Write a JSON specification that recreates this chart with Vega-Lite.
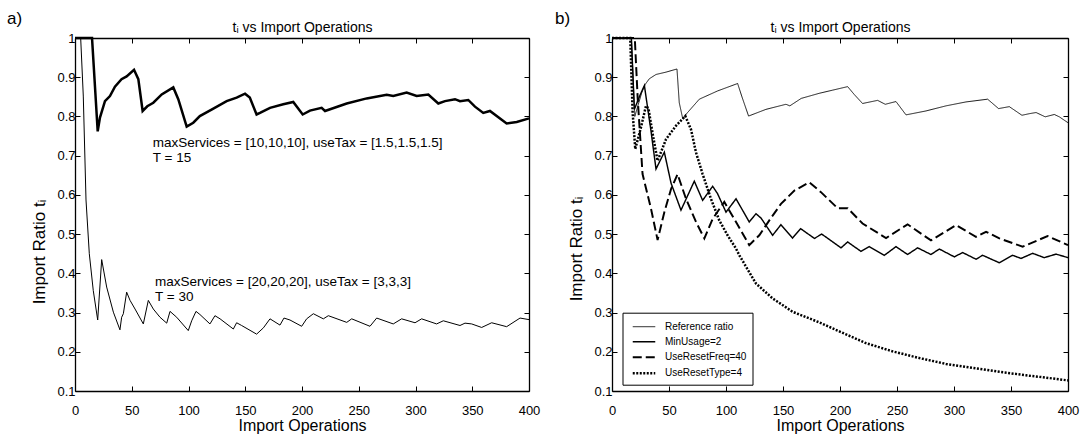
{
  "$schema": "https://vega.github.io/schema/vega-lite/v6.json",
  "padding": {"left": 7, "top": 9, "right": 4, "bottom": 2},
  "config": {
    "font": "Liberation Sans",
    "view": {"stroke": null},
    "axis": {"grid": false, "domainColor": "#000", "domainWidth": 1.3, "tickColor": "#000", "tickSize": -5, "tickWidth": 1, "labelColor": "#000", "labelFontSize": 13, "labelFlush": false, "labelOverlap": false, "titleColor": "#000", "titleFontSize": 16, "titleFontWeight": "normal", "labelPadding": 18, "titlePadding": 0},
    "axisY": {"labelPadding": 5, "titlePadding": 8, "titleFontSize": 17},
    "title": {"fontWeight": "normal", "color": "#000", "fontSize": 17, "anchor": "start", "frame": "group"},
    "legend": {"orient": "none", "legendX": 10.5, "legendY": 274.7, "strokeColor": "#000", "fillColor": "#fff", "padding": 6, "labelFontSize": 10, "labelColor": "#000", "symbolType": "M-1.5,0H1.5", "symbolSize": 225, "symbolStrokeColor": "#000", "symbolOffset": 6.5, "labelOffset": 12, "rowPadding": 1.5, "cornerRadius": 0}
  },
  "datasets": {
    "a": [
      {"s":"T15","x":0,"y":1},{"s":"T15","x":15,"y":1},{"s":"T15","x":20,"y":0.762},{"s":"T15","x":22,"y":0.797},{"s":"T15","x":26.4,"y":0.839},{"s":"T15","x":30.8,"y":0.852},{"s":"T15","x":35.2,"y":0.876},{"s":"T15","x":41,"y":0.895},{"s":"T15","x":45.5,"y":0.902},{"s":"T15","x":52,"y":0.919},{"s":"T15","x":55.8,"y":0.895},{"s":"T15","x":59.6,"y":0.814},{"s":"T15","x":63.7,"y":0.826},{"s":"T15","x":69,"y":0.835},{"s":"T15","x":76.4,"y":0.856},{"s":"T15","x":86.6,"y":0.874},{"s":"T15","x":91,"y":0.844},{"s":"T15","x":98.4,"y":0.774},{"s":"T15","x":104.2,"y":0.784},{"s":"T15","x":110,"y":0.801},{"s":"T15","x":121.9,"y":0.82},{"s":"T15","x":133.6,"y":0.839},{"s":"T15","x":142.4,"y":0.848},{"s":"T15","x":149.8,"y":0.858},{"s":"T15","x":154,"y":0.848},{"s":"T15","x":160,"y":0.805},{"s":"T15","x":163,"y":0.809},{"s":"T15","x":171.8,"y":0.822},{"s":"T15","x":183.5,"y":0.831},{"s":"T15","x":192.3,"y":0.837},{"s":"T15","x":200.6,"y":0.805},{"s":"T15","x":207,"y":0.815},{"s":"T15","x":217.3,"y":0.822},{"s":"T15","x":220.3,"y":0.814},{"s":"T15","x":239.4,"y":0.833},{"s":"T15","x":257,"y":0.846},{"s":"T15","x":274.6,"y":0.855},{"s":"T15","x":280.4,"y":0.852},{"s":"T15","x":292.2,"y":0.861},{"s":"T15","x":301,"y":0.852},{"s":"T15","x":311.3,"y":0.856},{"s":"T15","x":320.1,"y":0.833},{"s":"T15","x":326,"y":0.839},{"s":"T15","x":334.8,"y":0.844},{"s":"T15","x":339.2,"y":0.839},{"s":"T15","x":346.5,"y":0.842},{"s":"T15","x":352.4,"y":0.825},{"s":"T15","x":359.7,"y":0.809},{"s":"T15","x":365.6,"y":0.814},{"s":"T15","x":380.3,"y":0.782},{"s":"T15","x":389.2,"y":0.786},{"s":"T15","x":400,"y":0.795},
      {"s":"T30","x":0,"y":1},{"s":"T30","x":5,"y":1},{"s":"T30","x":7.3,"y":0.852},{"s":"T30","x":9.7,"y":0.587},{"s":"T30","x":12.6,"y":0.45},{"s":"T30","x":16.1,"y":0.356},{"s":"T30","x":20,"y":0.281},{"s":"T30","x":23.5,"y":0.435},{"s":"T30","x":27.9,"y":0.365},{"s":"T30","x":33.8,"y":0.301},{"s":"T30","x":39.6,"y":0.256},{"s":"T30","x":41.1,"y":0.288},{"s":"T30","x":42.6,"y":0.297},{"s":"T30","x":45.5,"y":0.352},{"s":"T30","x":48.5,"y":0.331},{"s":"T30","x":52.9,"y":0.309},{"s":"T30","x":60.2,"y":0.271},{"s":"T30","x":64.6,"y":0.331},{"s":"T30","x":69,"y":0.309},{"s":"T30","x":74.9,"y":0.288},{"s":"T30","x":80.8,"y":0.273},{"s":"T30","x":83.7,"y":0.303},{"s":"T30","x":89.6,"y":0.288},{"s":"T30","x":99.8,"y":0.254},{"s":"T30","x":102.8,"y":0.279},{"s":"T30","x":106.6,"y":0.303},{"s":"T30","x":110.1,"y":0.295},{"s":"T30","x":118.9,"y":0.271},{"s":"T30","x":123.3,"y":0.292},{"s":"T30","x":127.8,"y":0.284},{"s":"T30","x":139.5,"y":0.258},{"s":"T30","x":142.4,"y":0.274},{"s":"T30","x":146.8,"y":0.267},{"s":"T30","x":160,"y":0.245},{"s":"T30","x":166,"y":0.261},{"s":"T30","x":171.8,"y":0.284},{"s":"T30","x":180.6,"y":0.268},{"s":"T30","x":184.1,"y":0.286},{"s":"T30","x":189.4,"y":0.281},{"s":"T30","x":199.7,"y":0.265},{"s":"T30","x":204.1,"y":0.284},{"s":"T30","x":210,"y":0.297},{"s":"T30","x":218.8,"y":0.284},{"s":"T30","x":223.2,"y":0.292},{"s":"T30","x":239.4,"y":0.275},{"s":"T30","x":243.8,"y":0.284},{"s":"T30","x":259.9,"y":0.265},{"s":"T30","x":265.8,"y":0.286},{"s":"T30","x":280.4,"y":0.271},{"s":"T30","x":287.8,"y":0.284},{"s":"T30","x":299.6,"y":0.274},{"s":"T30","x":305.4,"y":0.284},{"s":"T30","x":318.6,"y":0.271},{"s":"T30","x":324.5,"y":0.279},{"s":"T30","x":339.2,"y":0.267},{"s":"T30","x":343.6,"y":0.273},{"s":"T30","x":349.5,"y":0.271},{"s":"T30","x":358.3,"y":0.262},{"s":"T30","x":367.1,"y":0.274},{"s":"T30","x":380.3,"y":0.264},{"s":"T30","x":392.1,"y":0.286},{"s":"T30","x":400,"y":0.282}
    ],
    "b": [
      {"s":"Reference ratio","x":0,"y":1},{"s":"Reference ratio","x":17,"y":1},{"s":"Reference ratio","x":20,"y":0.8},{"s":"Reference ratio","x":23,"y":0.83},{"s":"Reference ratio","x":26,"y":0.86},{"s":"Reference ratio","x":29.2,"y":0.882},{"s":"Reference ratio","x":32.7,"y":0.896},{"s":"Reference ratio","x":38.6,"y":0.907},{"s":"Reference ratio","x":47.4,"y":0.913},{"s":"Reference ratio","x":57,"y":0.921},{"s":"Reference ratio","x":59,"y":0.835},{"s":"Reference ratio","x":62,"y":0.795},{"s":"Reference ratio","x":66.3,"y":0.81},{"s":"Reference ratio","x":76.6,"y":0.844},{"s":"Reference ratio","x":92.6,"y":0.865},{"s":"Reference ratio","x":110.2,"y":0.884},{"s":"Reference ratio","x":114,"y":0.85},{"s":"Reference ratio","x":119.8,"y":0.801},{"s":"Reference ratio","x":135,"y":0.818},{"s":"Reference ratio","x":152.6,"y":0.831},{"s":"Reference ratio","x":156,"y":0.827},{"s":"Reference ratio","x":166,"y":0.846},{"s":"Reference ratio","x":181.8,"y":0.859},{"s":"Reference ratio","x":193.5,"y":0.867},{"s":"Reference ratio","x":206.7,"y":0.876},{"s":"Reference ratio","x":212.5,"y":0.856},{"s":"Reference ratio","x":219.8,"y":0.833},{"s":"Reference ratio","x":233,"y":0.841},{"s":"Reference ratio","x":239.7,"y":0.831},{"s":"Reference ratio","x":249.1,"y":0.838},{"s":"Reference ratio","x":257.9,"y":0.804},{"s":"Reference ratio","x":275.4,"y":0.814},{"s":"Reference ratio","x":293,"y":0.827},{"s":"Reference ratio","x":310.5,"y":0.837},{"s":"Reference ratio","x":329.5,"y":0.844},{"s":"Reference ratio","x":339.1,"y":0.82},{"s":"Reference ratio","x":348.5,"y":0.825},{"s":"Reference ratio","x":359.6,"y":0.803},{"s":"Reference ratio","x":366,"y":0.807},{"s":"Reference ratio","x":372,"y":0.81},{"s":"Reference ratio","x":380,"y":0.799},{"s":"Reference ratio","x":388,"y":0.805},{"s":"Reference ratio","x":392.4,"y":0.799},{"s":"Reference ratio","x":400,"y":0.784},
      {"s":"MinUsage=2","x":0,"y":1},{"s":"MinUsage=2","x":17,"y":1},{"s":"MinUsage=2","x":19.6,"y":0.818},{"s":"MinUsage=2","x":24,"y":0.85},{"s":"MinUsage=2","x":28.4,"y":0.879},{"s":"MinUsage=2","x":34.2,"y":0.763},{"s":"MinUsage=2","x":38.6,"y":0.666},{"s":"MinUsage=2","x":45.9,"y":0.709},{"s":"MinUsage=2","x":51.8,"y":0.63},{"s":"MinUsage=2","x":60.5,"y":0.561},{"s":"MinUsage=2","x":72.2,"y":0.635},{"s":"MinUsage=2","x":79.5,"y":0.586},{"s":"MinUsage=2","x":88.3,"y":0.622},{"s":"MinUsage=2","x":92.6,"y":0.603},{"s":"MinUsage=2","x":100,"y":0.556},{"s":"MinUsage=2","x":108.8,"y":0.59},{"s":"MinUsage=2","x":120.4,"y":0.531},{"s":"MinUsage=2","x":126.3,"y":0.552},{"s":"MinUsage=2","x":130.7,"y":0.541},{"s":"MinUsage=2","x":140.9,"y":0.497},{"s":"MinUsage=2","x":148.2,"y":0.524},{"s":"MinUsage=2","x":158.4,"y":0.49},{"s":"MinUsage=2","x":165.5,"y":0.514},{"s":"MinUsage=2","x":177.5,"y":0.489},{"s":"MinUsage=2","x":184,"y":0.5},{"s":"MinUsage=2","x":200.9,"y":0.465},{"s":"MinUsage=2","x":206.7,"y":0.48},{"s":"MinUsage=2","x":218.4,"y":0.456},{"s":"MinUsage=2","x":225.7,"y":0.468},{"s":"MinUsage=2","x":238.9,"y":0.446},{"s":"MinUsage=2","x":249.1,"y":0.468},{"s":"MinUsage=2","x":259.3,"y":0.448},{"s":"MinUsage=2","x":268.1,"y":0.465},{"s":"MinUsage=2","x":279.8,"y":0.448},{"s":"MinUsage=2","x":287.1,"y":0.462},{"s":"MinUsage=2","x":300.3,"y":0.442},{"s":"MinUsage=2","x":307.6,"y":0.453},{"s":"MinUsage=2","x":319.3,"y":0.436},{"s":"MinUsage=2","x":325.1,"y":0.446},{"s":"MinUsage=2","x":339.7,"y":0.427},{"s":"MinUsage=2","x":351.4,"y":0.446},{"s":"MinUsage=2","x":358.8,"y":0.438},{"s":"MinUsage=2","x":369,"y":0.451},{"s":"MinUsage=2","x":379.2,"y":0.44},{"s":"MinUsage=2","x":389.5,"y":0.449},{"s":"MinUsage=2","x":400,"y":0.44},
      {"s":"UseResetFreq=40","x":0,"y":1},{"s":"UseResetFreq=40","x":20,"y":1},{"s":"UseResetFreq=40","x":22.5,"y":0.848},{"s":"UseResetFreq=40","x":26.8,"y":0.653},{"s":"UseResetFreq=40","x":34.2,"y":0.565},{"s":"UseResetFreq=40","x":40,"y":0.485},{"s":"UseResetFreq=40","x":45.9,"y":0.556},{"s":"UseResetFreq=40","x":51.8,"y":0.615},{"s":"UseResetFreq=40","x":57.5,"y":0.653},{"s":"UseResetFreq=40","x":64.9,"y":0.59},{"s":"UseResetFreq=40","x":73.7,"y":0.531},{"s":"UseResetFreq=40","x":81,"y":0.489},{"s":"UseResetFreq=40","x":88.3,"y":0.539},{"s":"UseResetFreq=40","x":98.5,"y":0.582},{"s":"UseResetFreq=40","x":108.8,"y":0.531},{"s":"UseResetFreq=40","x":120.4,"y":0.472},{"s":"UseResetFreq=40","x":129.2,"y":0.497},{"s":"UseResetFreq=40","x":138,"y":0.535},{"s":"UseResetFreq=40","x":148.2,"y":0.577},{"s":"UseResetFreq=40","x":160,"y":0.611},{"s":"UseResetFreq=40","x":173,"y":0.632},{"s":"UseResetFreq=40","x":183.3,"y":0.607},{"s":"UseResetFreq=40","x":197.9,"y":0.566},{"s":"UseResetFreq=40","x":206.7,"y":0.566},{"s":"UseResetFreq=40","x":219.8,"y":0.527},{"s":"UseResetFreq=40","x":240.4,"y":0.49},{"s":"UseResetFreq=40","x":259.3,"y":0.525},{"s":"UseResetFreq=40","x":279.8,"y":0.484},{"s":"UseResetFreq=40","x":301.8,"y":0.523},{"s":"UseResetFreq=40","x":319.3,"y":0.493},{"s":"UseResetFreq=40","x":328.1,"y":0.506},{"s":"UseResetFreq=40","x":339.8,"y":0.489},{"s":"UseResetFreq=40","x":360.2,"y":0.468},{"s":"UseResetFreq=40","x":382.1,"y":0.495},{"s":"UseResetFreq=40","x":400,"y":0.472},
      {"s":"UseResetType=4","x":0,"y":1},{"s":"UseResetType=4","x":16,"y":1},{"s":"UseResetType=4","x":18.1,"y":0.81},{"s":"UseResetType=4","x":20.4,"y":0.717},{"s":"UseResetType=4","x":25.4,"y":0.772},{"s":"UseResetType=4","x":29.8,"y":0.827},{"s":"UseResetType=4","x":32,"y":0.82},{"s":"UseResetType=4","x":36,"y":0.75},{"s":"UseResetType=4","x":40,"y":0.687},{"s":"UseResetType=4","x":47.4,"y":0.742},{"s":"UseResetType=4","x":56.1,"y":0.776},{"s":"UseResetType=4","x":64.3,"y":0.801},{"s":"UseResetType=4","x":69.3,"y":0.767},{"s":"UseResetType=4","x":73.7,"y":0.708},{"s":"UseResetType=4","x":79.5,"y":0.653},{"s":"UseResetType=4","x":86.8,"y":0.59},{"s":"UseResetType=4","x":94.1,"y":0.535},{"s":"UseResetType=4","x":101.4,"y":0.497},{"s":"UseResetType=4","x":108.8,"y":0.463},{"s":"UseResetType=4","x":111.7,"y":0.446},{"s":"UseResetType=4","x":126.3,"y":0.374},{"s":"UseResetType=4","x":140.9,"y":0.336},{"s":"UseResetType=4","x":158.4,"y":0.302},{"s":"UseResetType=4","x":181.8,"y":0.275},{"s":"UseResetType=4","x":199.4,"y":0.252},{"s":"UseResetType=4","x":222.8,"y":0.222},{"s":"UseResetType=4","x":246.2,"y":0.201},{"s":"UseResetType=4","x":269.6,"y":0.184},{"s":"UseResetType=4","x":293,"y":0.169},{"s":"UseResetType=4","x":316.3,"y":0.159},{"s":"UseResetType=4","x":339.8,"y":0.149},{"s":"UseResetType=4","x":363.2,"y":0.14},{"s":"UseResetType=4","x":380.7,"y":0.134},{"s":"UseResetType=4","x":400,"y":0.127}
    ]
  },
  "spacing": 15,
  "hconcat": [
    {
      "width": 454, "height": 353,
      "title": {"text": "a)", "dx": -68, "dy": 11},
      "layer": [
        {
          "data": {"name": "a"},
          "mark": {"type": "line", "color": "#000"},
          "encoding": {
            "x": {"field": "x", "type": "quantitative", "scale": {"domain": [0, 400], "nice": false}, "axis": {"orient": "bottom", "values": [0,50,100,150,200,250,300,350,400], "title": "Import Operations"}},
            "y": {"field": "y", "type": "quantitative", "scale": {"domain": [0.1, 1], "nice": false, "zero": false}, "axis": {"orient": "left", "values": [0.1,0.2,0.3,0.4,0.5,0.6,0.7,0.8,0.9,1], "format": "~g", "title": "Import Ratio tᵢ", "titleY": 213.5}},
            "strokeWidth": {"field": "s", "type": "nominal", "scale": {"domain": ["T15", "T30"], "range": [2.5, 1]}, "legend": null}
          }
        },
        {
          "data": {"values": [{}]},
          "mark": {"type": "text", "align": "left", "baseline": "middle", "fontSize": 13.5, "lineHeight": 15, "color": "#000"},
          "encoding": {
            "x": {"datum": 68.5, "type": "quantitative", "axis": null},
            "y": {"datum": 0.733, "type": "quantitative", "axis": null},
            "text": {"value": ["maxServices = [10,10,10], useTax = [1.5,1.5,1.5]", "T = 15"]}
          }
        },
        {
          "data": {"values": [{}]},
          "mark": {"type": "text", "align": "left", "baseline": "middle", "fontSize": 13.5, "lineHeight": 15, "color": "#000"},
          "encoding": {
            "x": {"datum": 70.5, "type": "quantitative", "axis": null},
            "y": {"datum": 0.378, "type": "quantitative", "axis": null},
            "text": {"value": ["maxServices = [20,20,20], useTax = [3,3,3]", "T = 30"]}
          }
        },
        {
          "data": {"name": "a"},
          "mark": {"type": "point", "opacity": 0},
          "encoding": {
            "x": {"field": "x", "type": "quantitative", "axis": {"orient": "top", "labels": false, "values": [0,50,100,150,200,250,300,350,400], "title": "tᵢ vs Import Operations", "titleFontSize": 14, "titlePadding": 3}},
            "y": {"field": "y", "type": "quantitative", "axis": {"orient": "right", "labels": false, "values": [0.1,0.2,0.3,0.4,0.5,0.6,0.7,0.8,0.9,1], "title": null}}
          }
        }
      ],
      "resolve": {"axis": {"x": "independent", "y": "independent"}}
    },
    {
      "width": 456, "height": 353,
      "title": {"text": "b)", "dx": -57, "dy": 11},
      "layer": [
        {
          "data": {"name": "b"},
          "mark": {"type": "line", "color": "#000"},
          "encoding": {
            "x": {"field": "x", "type": "quantitative", "scale": {"domain": [0, 400], "nice": false}, "axis": {"orient": "bottom", "values": [0,50,100,150,200,250,300,350,400], "title": "Import Operations"}},
            "y": {"field": "y", "type": "quantitative", "scale": {"domain": [0.1, 1], "nice": false, "zero": false}, "axis": {"orient": "left", "values": [0.1,0.2,0.3,0.4,0.5,0.6,0.7,0.8,0.9,1], "format": "~g", "title": "Import Ratio tᵢ", "titleY": 210.5}},
            "strokeDash": {"field": "s", "type": "nominal", "scale": {"domain": ["Reference ratio", "MinUsage=2", "UseResetFreq=40", "UseResetType=4"], "range": [[1,0],[1,0],[9,4],[2,1.5]]}, "legend": {"title": null}},
            "strokeWidth": {"field": "s", "type": "nominal", "scale": {"domain": ["Reference ratio", "MinUsage=2", "UseResetFreq=40", "UseResetType=4"], "range": [0.9, 2.5, 3, 3]}, "legend": {"title": null}}
          }
        },
        {
          "data": {"name": "b"},
          "mark": {"type": "point", "opacity": 0},
          "encoding": {
            "x": {"field": "x", "type": "quantitative", "axis": {"orient": "top", "labels": false, "values": [0,50,100,150,200,250,300,350,400], "title": "tᵢ vs Import Operations", "titleFontSize": 14, "titlePadding": 3}},
            "y": {"field": "y", "type": "quantitative", "axis": {"orient": "right", "labels": false, "values": [0.1,0.2,0.3,0.4,0.5,0.6,0.7,0.8,0.9,1], "title": null}}
          }
        }
      ],
      "resolve": {"axis": {"x": "independent", "y": "independent"}}
    }
  ],
  "resolve": {"scale": {"strokeWidth": "independent", "strokeDash": "independent"}, "legend": {"strokeWidth": "independent", "strokeDash": "independent"}}
}
